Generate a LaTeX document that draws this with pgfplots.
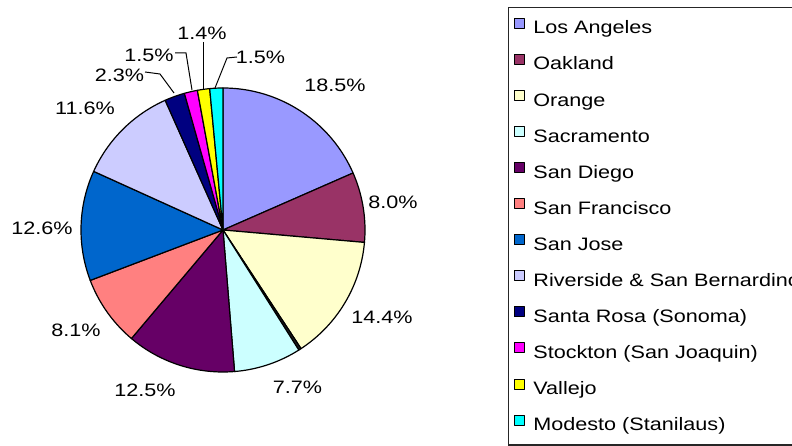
\documentclass[border=0pt]{standalone}
\usepackage{fontspec}
\setmainfont{Liberation Sans}[FakeStretch=1.2]
\usepackage{pgfplots}
\pgfplotsset{compat=1.18}

\definecolor{cLA}{HTML}{9999FF}
\definecolor{cOak}{HTML}{993366}
\definecolor{cOra}{HTML}{FFFFCC}
\definecolor{cSac}{HTML}{CCFFFF}
\definecolor{cSD}{HTML}{660066}
\definecolor{cSF}{HTML}{FF8080}
\definecolor{cSJ}{HTML}{0066CC}
\definecolor{cRiv}{HTML}{CCCCFF}
\definecolor{cSR}{HTML}{000080}
\definecolor{cSto}{HTML}{FF00FF}
\definecolor{cVal}{HTML}{FFFF00}
\definecolor{cMod}{HTML}{00FFFF}
\definecolor{cTiny}{HTML}{202020}

\newcommand\lbl{\fontsize{18pt}{20pt}\selectfont}
\def\total{100.4}
\def\cum{0}
\newcommand\slice[3]{%
  \pgfmathsetmacro\fac{360/\total}%
  \pgfmathsetmacro\angA{90-\cum*\fac}%
  \pgfmathsetmacro\cumnew{\cum+#1}%
  \xdef\cum{\cumnew}%
  \pgfmathsetmacro\angB{90-\cum*\fac}%
  \edef\next{\noexpand\addplot[fill=#2, draw=black, line width=1.2pt, line join=round, domain=\angB:\angA, samples=60, #3] ({142*cos(x)},{142*sin(x)}) -- (0,0) -- cycle;}%
  \next
}

\begin{document}
\begin{tikzpicture}
\useasboundingbox (0,0) rectangle (792pt,446pt);
\clip (0,0) rectangle (792pt,446pt);
\begin{axis}[
  x=1pt, y=1pt,
  xmin=-223, xmax=569, ymin=-216, ymax=230,
  anchor=south west, at={(0pt,0pt)},
  hide axis, clip=false,
  legend entries={Los Angeles, Oakland, Orange, Sacramento, San Diego, San Francisco, San Jose, {Riverside \& San Bernardino}, Santa Rosa (Sonoma), Stockton (San Joaquin), Vallejo, Modesto (Stanilaus)},
  legend image code/.code={\draw[#1, line width=0.8pt] (0pt,1.4pt) rectangle (10pt,11.4pt);},
  legend style={at={(axis cs:285,223)}, anchor=north west, draw=black!85, line width=1.2pt,
    inner xsep=5pt, inner ysep=10pt, row sep=15.8pt, column sep=9pt,
    font=\lbl, legend cell align=left,
    nodes={inner sep=0pt, text height=13pt, text depth=4pt, text=black}},
]
\slice{18.5}{cLA}{}
\slice{8.0}{cOak}{}
\slice{14.4}{cOra}{}
\slice{0.3}{cTiny}{forget plot}
\slice{7.7}{cSac}{}
\slice{12.5}{cSD}{}
\slice{8.1}{cSF}{}
\slice{12.6}{cSJ}{}
\slice{11.6}{cRiv}{}
\slice{2.3}{cSR}{}
\slice{1.5}{cSto}{}
\slice{1.4}{cVal}{}
\slice{1.5}{cMod}{}

\begin{scope}[every node/.style={font=\lbl, text=black, inner sep=0pt}]
\node at (axis cs:112,145) {18.5\%};
\node at (axis cs:170,28) {8.0\%};
\node at (axis cs:159,-87) {14.4\%};
\node at (axis cs:74.5,-157) {7.7\%};
\node at (axis cs:-78,-160) {12.5\%};
\node at (axis cs:-147,-100) {8.1\%};
\node at (axis cs:-181,2) {12.6\%};
\node at (axis cs:-138,122) {11.6\%};
\node at (axis cs:-103.5,155) {2.3\%};
\node at (axis cs:-74,175) {1.5\%};
\node at (axis cs:-21,197) {1.4\%};
\node at (axis cs:37.5,173) {1.5\%};
\end{scope}
\draw[line width=1pt] (axis cs:-78,158) -- (axis cs:-63,156) -- (axis cs:-49,137);
\draw[line width=1pt] (axis cs:-48,177) -- (axis cs:-37,177) -- (axis cs:-31,140);
\draw[line width=1pt] (axis cs:-20,188) -- (axis cs:-20,141);
\draw[line width=1pt] (axis cs:14,173) -- (axis cs:4,172) -- (axis cs:-8,142);
\end{axis}
\end{tikzpicture}
\end{document}
